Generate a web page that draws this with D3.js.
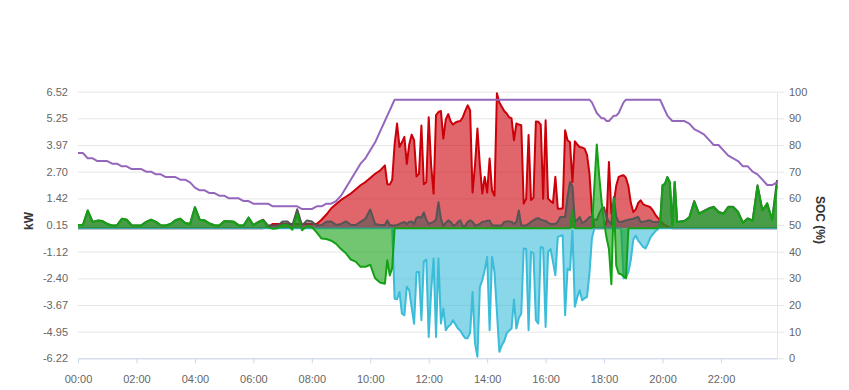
<!DOCTYPE html>
<html>
<head>
<meta charset="utf-8">
<script src="https://cdn.jsdelivr.net/npm/d3@7"></script>
<style>
  body { margin: 0; background: #fff; }
  svg text { font-family: "Liberation Sans", Arial, Helvetica, sans-serif; }
</style>
</head>
<body>
<div id="canvas"></div>
<script>
const w = 849;
const h = 390;
const margin = {
  top: 91.7,
  bottom: 31.7,
  left: 78,
  right: 72
}

// axis ticks
const kwTicks = [-6.22, -4.95, -3.67, -2.40, -1.12, 0.15, 1.42, 2.70, 3.97, 5.25, 6.52];
const socTicks = [0, 10, 20, 30, 40, 50, 60, 70, 80, 90, 100];
const timeTicks = ["00:00", "02:00", "04:00", "06:00", "08:00", "10:00", "12:00", "14:00", "16:00", "18:00", "20:00", "22:00"];

// sample times in minutes: 10 min until 10:20, 5 min 10:30-20:30, 10 min after
const sampleMinutes = [].concat(d3.range(0, 630, 10), d3.range(630, 1235, 5), d3.range(1245, 1440, 10));

// PV production (kW)
const pv = [
  0,0,0,0,0,0, 0,0,0,0,0,0, 0,0,0,0,0,0, 0,0,0,0,0,0, 0,0,0,0,0,0, 0,0,0,0,0,0,
  0,0,0,0.05,0.2,0.2,
  0.2,0.2,0.2,0.2,0.2,0.2,
  0.2,0.2,0.4,0.65,0.95,1.15,
  1.35,1.5,1.65,1.85,2.05,2.2,
  2.4,2.6,2.75,
  // 5 min
  3.0,2.1,2.08,2.3,4.0,5.0,
  3.88,4.1,4.36,3.07,4.0,4.47,4.2,2.47,2.6,4.9,2.1,2.2,
  5.3,3.0,1.65,5.4,5.55,5.6,4.28,5.2,5.45,5.1,4.95,5.05,
  5.1,5.12,5.3,5.6,5.87,5.63,1.7,3.0,4.76,3.0,1.65,2.45,
  1.7,3.33,1.8,1.55,6.45,6.0,5.8,5.6,5.48,5.3,5.24,4.2,
  5.0,4.95,4.92,1.17,1.4,4.45,1.35,1.45,5.1,5.08,4.95,1.41,
  5.15,1.41,1.3,1.2,2.45,0.93,0.93,0.95,4.68,4.2,4.1,2.2,
  4.15,4.0,3.88,3.85,3.8,3.5,2.6,0.8,0,0,0,0,
  0,0.3,3.16,0.7,1.2,2.04,2.45,2.5,2.53,2.4,2.0,1.2,
  0.77,0.9,1.2,1.33,1.15,1.09,1.05,1.0,0.85,0.65,0.5,0.36,
  0.25,0.15,0.08,0.03,0,0,0,
  // 10 min
  0,0,0,0,0,0,0,0,0,0,0,0,0,0,0,0,0,0,0,0
];

// house load (kW)
const load = [
  0.15,0.15,0.84,0.3,0.36,0.34,
  0.2,0.13,0.13,0.45,0.4,0.14,
  0.13,0.13,0.3,0.4,0.3,0.14,
  0.13,0.2,0.38,0.45,0.25,0.2,
  1.0,0.4,0.37,0.22,0.14,0.13,
  0.33,0.33,0.3,0.13,0.13,0.5,
  0.15,0.3,0.4,0.13,0.13,0.13,
  0.32,0.32,0.13,0.9,0.13,0.37,
  0.32,0.13,0.15,0.3,0.32,0.15,
  0.2,0.32,0.16,0.15,0.3,0.45,
  0.89,0.2,0.15,
  // 5 min
  0.15,0.37,0.15,0.13,0.13,0.15,
  0.2,0.25,0.29,0.2,0.3,0.32,0.2,0.5,0.53,0.5,0.75,0.4,
  0.2,0.25,0.3,0.4,1.24,0.45,0.1,0.25,0.37,0.3,0.13,0.15,
  0.3,0.37,0.1,0.1,0.3,0.37,0.3,0.13,0.15,0.2,0.3,0.32,
  0.35,0.37,0.13,0.13,0.13,0.13,0.13,0.3,0.32,0.32,0.3,0.2,
  0.3,0.84,0.13,0.13,0.13,0.2,0.3,0.37,0.45,0.48,0.4,0.37,
  0.35,0.25,0.2,0.2,0.2,0.3,0.53,0.53,0.53,1.5,2.2,2.0,
  0.3,0.4,0.53,0.25,0.3,0.4,0.53,0.53,0.4,0.4,0.7,0.92,
  1.0,0.53,0.3,0.2,1.49,0.53,0.3,0.29,0.33,0.37,0.4,0.43,
  0.45,0.5,0.53,0.29,0.3,0.33,0.37,0.37,0.29,0.29,0.29,0.3,
  2.04,2.12,2.44,2.2,0.15,2.2,0.29,
  // 10 min
  0.35,0.52,1.3,0.7,0.82,0.95,1.02,0.78,0.7,1.02,1.02,0.78,0.27,0.47,0.37,2.05,0.86,1.12,0.42,2.3
];

// battery power (kW, + discharge / - charge)
const battery = [
  0.15,0.15,0.84,0.3,0.36,0.34,
  0.2,0.13,0.13,0.45,0.4,0.14,
  0.13,0.13,0.3,0.4,0.3,0.14,
  0.13,0.2,0.38,0.45,0.25,0.2,
  1.0,0.4,0.37,0.22,0.14,0.13,
  0.33,0.33,0.3,0.13,0.13,0.5,
  0.15,0.28,0.37,0.05,-0.03,0,
  0.16,0.16,-0.08,0.68,-0.1,0.1,
  0.05,-0.2,-0.5,-0.52,-0.6,-0.75,
  -1.0,-1.2,-1.5,-1.6,-1.85,-1.85,
  -1.75,-2.4,-2.6,
  // 5 min
  -2.66,-1.54,-2.26,-1.91,0,0,
  0,0,0,0,0,0,0,0,0,0,0,0,
  0,0,0,0,0,0,0,0,0,0,0,0,
  0,0,0,0,0,0,0,0,0,0,0,0,
  0,0,0,0,0,0,0,0,0,0,0,0,
  0,0,0,0,0,0,0,0,0,0,0,0,
  0,0,0,0,0,0,0,0,0,0,0,0.84,
  0,0,0,0,0,0,0,0,2.0,4.0,2.5,1.24,
  0.3,-0.45,-1.0,-2.68,1.4,-1.8,-2.17,-2.2,-2.3,-2.4,0,0,
  0,0,0,0,0,0,0,0,0,0,0,0.2,
  2.04,2.12,2.44,2.2,0.13,2.2,0.29,
  // 10 min
  0.33,0.5,1.25,0.68,0.8,0.92,1.0,0.75,0.68,1.0,1.0,0.76,0.25,0.45,0.35,2.0,0.84,1.2,0.4,2.04
];

// grid power (kW, - export)
const grid = [
  0,0,0,0,0,0, 0,0,0,0,0,0, 0,0,0,0,0,0, 0,0,0,0,0,0, 0,0,0,0,0,0, 0,0,0,0,0,0,
  0,0,0,0,0,0, 0,0,0,0,0,0, 0,0,0,0,0,0, 0,0,0,0,0,0, 0,0,0,
  // 5 min
  0,0,0,0,-3.37,-3.4,
  -3.05,-4.09,-4.16,-2.8,-2.97,-3.8,-4.57,-2.1,-2.1,-4.4,-1.6,-1.5,
  -5.2,-3.0,-1.45,-5.2,-1.45,-4.56,-3.84,-4.88,-4.7,-4.6,-4.4,-4.6,
  -4.8,-4.9,-5.1,-5.26,-5.26,-5.0,-3.05,-5.51,-6.15,-2.81,-2.49,-2.0,
  -1.38,-4.88,-1.38,-2.09,-4.0,-5.91,-5.6,-5.4,-5.03,-4.9,-4.8,-3.41,
  -4.8,-4.3,-4.08,-0.97,-1.0,-4.88,-1.13,-1.2,-4.4,-4.56,-0.9,-0.95,
  -4.72,-1.13,-1.0,-1.6,-2.25,-0.42,-0.38,-0.34,-4.16,-1.94,-2.0,-0.1,
  -3.76,-3.3,-2.97,-3.45,-3.35,-3.29,-2.17,-0.5,0,0,0,0,
  0,0,0,0,0,0,0,0,-2.4,-2.35,-2.1,-1.5,
  -0.55,-0.35,-0.6,-0.74,-0.9,-0.97,-0.74,-0.45,-0.3,-0.15,-0.05,0,
  0,0,0,0,0,0,0,
  // 10 min
  0,0,0,0,0,0,0,0,0,0,0,0,0,0,0,0,0,0,0,0
];

// battery state of charge (%)
const soc = [
  77,77,75,75,74,74,
  74,73,73,72,72,71,
  71,71,70,70,69,69,
  68,68,68,67,67,66,
  64,63,63,62,62,61,
  61,60,60,60,59,59,
  58,58,58,58,57,57,
  57,57,57,57,56,56,
  56,57,57,58,58,59,
  61,64,67,70,73,75,
  78,81,85,
  // 5 min
  89,91,93,95,97,97,
  97,97,97,97,97,97,97,97,97,97,97,97,
  97,97,97,97,97,97,97,97,97,97,97,97,
  97,97,97,97,97,97,97,97,97,97,97,97,
  97,97,97,97,97,97,97,97,97,97,97,97,
  97,97,97,97,97,97,97,97,97,97,97,97,
  97,97,97,97,97,97,97,97,97,97,97,97,
  97,97,97,97,97,97,97,96,94,92,91,90,
  90,89,89,90,91,91,92,94,96,97,97,97,
  97,97,97,97,97,97,97,97,97,97,97,97,
  95,93,91,90,89,89,89,
  // 10 min
  89,88,86,85,84,82,80,80,78,76,75,74,72,72,70,69,67,65,65,66
];

function render(){
  const width = w - (margin.left + margin.right);
  const height = h - (margin.top + margin.bottom);
  const svg = d3.select("#canvas")
                .append("svg")
                .attr("width", w)
                .attr("height", h)

  const chart = svg.append("g")
                .attr("transform", "translate(" + margin.left + "," + margin.top + ")")

  const x = d3.scaleLinear()
              .domain([0, d3.max(sampleMinutes)])
              .range([0, width])

  const yKw = d3.scaleLinear()
              .domain([kwTicks[0], kwTicks[kwTicks.length - 1]])
              .range([height, 0])

  const ySoc = d3.scaleLinear()
              .domain([socTicks[0], socTicks[socTicks.length - 1]])
              .range([height, 0])

  const tickMinutes = timeTicks.map(function(t){
    const p = t.split(":");
    return +p[0] * 60 + +p[1];
  })

  //gridlines
  chart.append("g")
      .attr("class", "grid")
      .call(d3.axisLeft(yKw).tickValues(kwTicks).tickSize(-width).tickFormat(""))
      .call(g => g.select(".domain").remove())
      .call(g => g.selectAll("line").attr("stroke", "#e6e6e6"))

  //left kW labels
  chart.append("g")
      .call(d3.axisLeft(yKw).tickValues(kwTicks).tickSize(0).tickPadding(10)
              .tickFormat(d => d.toFixed(2)))
      .call(g => g.select(".domain").remove())
      .call(g => g.selectAll("text").attr("fill", "#666").style("font-size", "11px"))

  //right SOC axis
  chart.append("g")
      .attr("transform", "translate(" + width + ",0)")
      .call(d3.axisRight(ySoc).tickValues(socTicks).tickSize(7).tickSizeOuter(0).tickPadding(5))
      .call(g => g.select(".domain").attr("stroke", "#e6e6e6"))
      .call(g => g.selectAll("line").attr("stroke", "#e6e6e6"))
      .call(g => g.selectAll("text").attr("fill", "#666").style("font-size", "11px"))

  //x axis
  chart.append("g")
      .attr("transform", "translate(0," + height + ")")
      .call(d3.axisBottom(x).tickValues(tickMinutes).tickSize(5).tickSizeOuter(0).tickPadding(12)
              .tickFormat((d, i) => timeTicks[i]))
      .call(g => g.select(".domain").attr("stroke", "#ccd6eb"))
      .call(g => g.selectAll("line").attr("stroke", "#ccd6eb"))
      .call(g => g.selectAll("text").attr("fill", "#666").style("font-size", "11px"))

  //axis titles
  chart.append("text")
      .attr("transform", "translate(" + (29 - margin.left) + "," + (221 - margin.top) + ") rotate(-90)")
      .attr("text-anchor", "middle")
      .attr("dy", "0.35em")
      .style("font-size", "12px")
      .style("font-weight", "bold")
      .attr("fill", "#333")
      .text("kW")

  chart.append("text")
      .attr("transform", "translate(" + (820 - margin.left) + "," + (220 - margin.top) + ") rotate(90)")
      .attr("text-anchor", "middle")
      .attr("dy", "0.35em")
      .style("font-size", "12px")
      .style("font-weight", "bold")
      .attr("fill", "#333")
      .text("SOC (%)")

  //area series, drawn in stacking order
  function drawArea(values, color){
    const data = values.map((v, i) => ({m: sampleMinutes[i], v: v}))
    const area = d3.area()
                  .x(d => x(d.m))
                  .y0(yKw(0))
                  .y1(d => yKw(d.v))
    const line = d3.line()
                  .x(d => x(d.m))
                  .y(d => yKw(d.v))
    chart.append("path")
        .datum(data)
        .attr("d", area)
        .attr("fill", color)
        .attr("fill-opacity", 0.6)
    chart.append("path")
        .datum(data)
        .attr("d", line)
        .attr("fill", "none")
        .attr("stroke", color)
        .attr("stroke-width", 2)
        .attr("stroke-linejoin", "round")
  }

  drawArea(pv, "#cc0008")
  drawArea(grid, "#3bbcd8")
  drawArea(load, "#555555")
  drawArea(battery, "#14a014")

  //SOC line
  const socLine = d3.line()
                    .x((d, i) => x(sampleMinutes[i]))
                    .y(d => ySoc(d))
  chart.append("path")
      .datum(soc)
      .attr("d", socLine)
      .attr("fill", "none")
      .attr("stroke", "#9467bd")
      .attr("stroke-width", 2)
      .attr("stroke-linejoin", "round")
}

render()
</script>
</body>
</html>
